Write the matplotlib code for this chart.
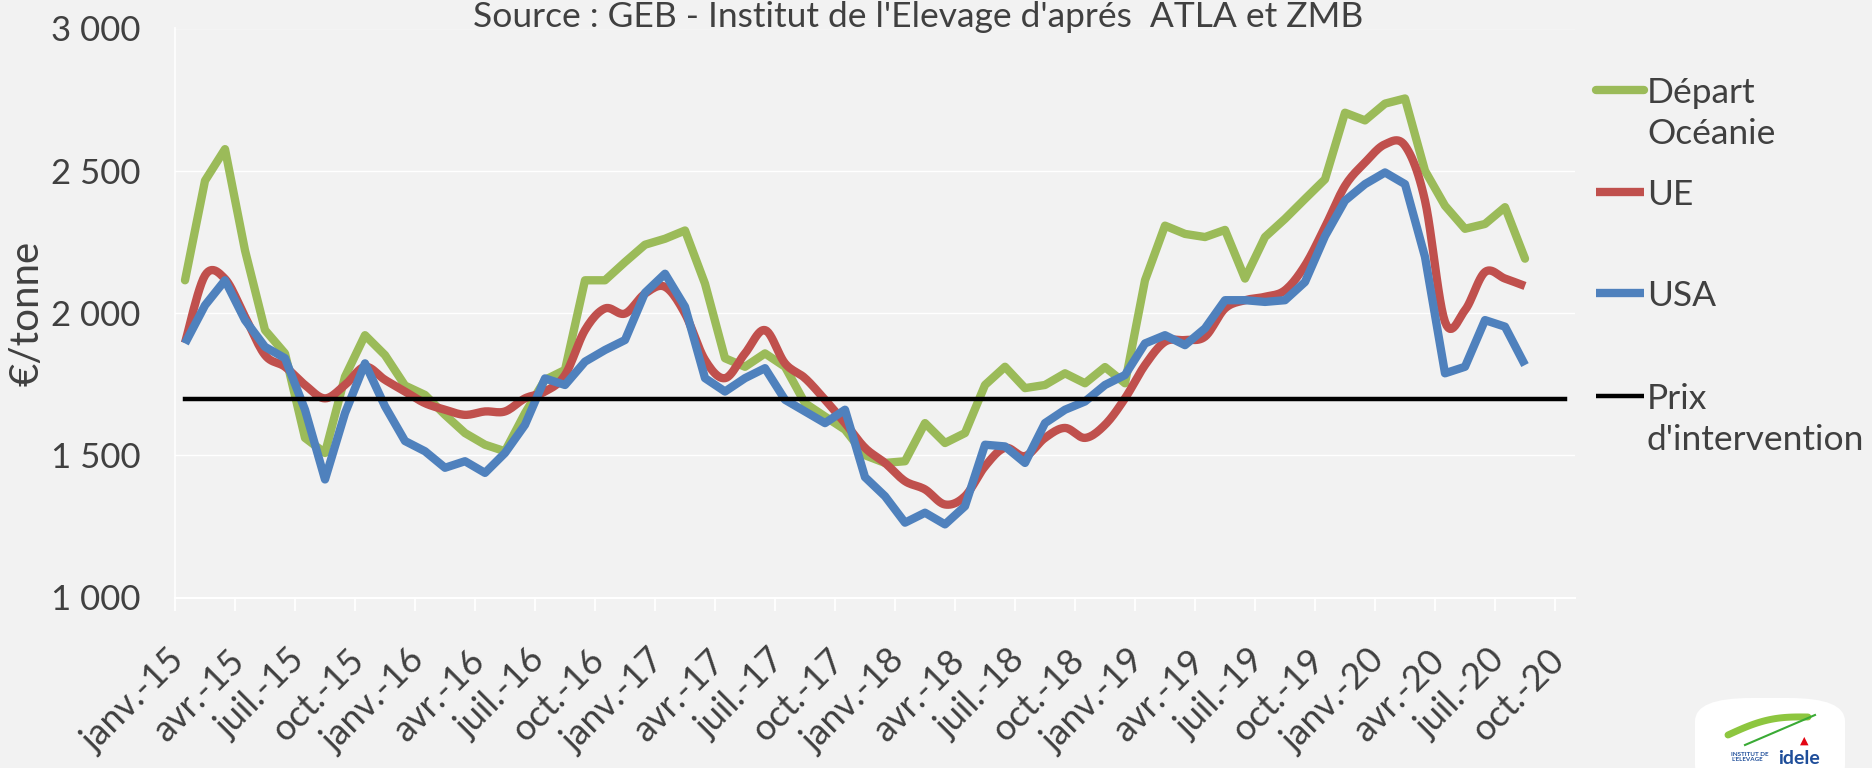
import matplotlib
matplotlib.use("Agg")
import matplotlib.pyplot as plt
import matplotlib.transforms as mtransforms
from matplotlib.lines import Line2D
from matplotlib.patches import FancyBboxPatch
import numpy as np

plt.rcParams['font.family'] = ['Lato', 'DejaVu Sans']

# prix mensuels, janv. 2015 -> août 2020 (EUR/tonne)
depart_oceanie = [2115, 2465, 2576, 2220, 1940, 1858, 1561, 1508, 1776, 1922, 1852, 1745,
                  1712, 1642, 1578, 1537, 1514, 1648, 1765, 1800, 2115, 2115, 2179, 2240,
                  2261, 2290, 2103, 1841, 1811, 1858, 1811, 1683, 1636, 1590, 1500, 1473,
                  1479, 1613, 1543, 1578, 1747, 1811, 1736, 1747, 1788, 1753, 1810, 1753,
                  2115, 2307, 2278, 2267, 2292, 2121, 2267, 2331, 2401, 2470, 2704, 2677,
                  2736, 2754, 2500, 2377, 2296, 2313, 2372, 2191]
ue = [1895, 2132, 2120, 1987, 1852, 1811, 1747, 1700, 1747, 1811, 1765, 1724,
      1683, 1660, 1642, 1654, 1654, 1700, 1724, 1782, 1940, 2016, 1998, 2068,
      2092, 1998, 1835, 1771, 1858, 1940, 1823, 1771, 1695, 1613, 1526, 1473,
      1409, 1380, 1327, 1356, 1461, 1526, 1497, 1561, 1596, 1561, 1607, 1700,
      1817, 1899, 1905, 1917, 2016, 2045, 2057, 2080, 2167, 2302, 2447, 2529,
      2593, 2588, 2395, 1969, 2010, 2144, 2121, 2095]
usa = [1893, 2027, 2115, 1975, 1881, 1841, 1660, 1415, 1648, 1823, 1672, 1550,
       1514, 1456, 1479, 1438, 1508, 1607, 1770, 1747, 1829, 1870, 1905, 2071,
       2138, 2022, 1771, 1724, 1771, 1806, 1695, 1654, 1613, 1660, 1423, 1356,
       1263, 1298, 1257, 1321, 1537, 1531, 1473, 1613, 1660, 1689, 1747, 1782,
       1893, 1922, 1887, 1946, 2045, 2045, 2039, 2045, 2109, 2270, 2395, 2453,
       2494, 2453, 2197, 1788, 1811, 1975, 1952, 1817]
prix_intervention = 1698
n_mois = 70  # janv.-15 -> oct.-20

mois_labels = [f"{m}-{a}" for a in range(15, 21) for m in ["janv.", "avr.", "juil.", "oct."]]

VERT = '#9BBB59'
ROUGE = '#C0504D'
BLEU = '#4F81BD'
FOND = '#F2F2F2'
TEXTE = '#404040'
W, H = 1872, 768


def catmull_rom(x, y, n=12):
    # courbe lissée façon Excel
    pts = np.column_stack([x, y]).astype(float)
    p = np.vstack([pts[0], pts, pts[-1]])
    t = np.linspace(0, 1, n, endpoint=False)[:, None]
    out = []
    for k in range(1, len(p) - 2):
        p0, p1, p2, p3 = p[k - 1], p[k], p[k + 1], p[k + 2]
        seg = 0.5 * (2 * p1 + (-p0 + p2) * t
                     + (2 * p0 - 5 * p1 + 4 * p2 - p3) * t ** 2
                     + (-p0 + 3 * p1 - 3 * p2 + p3) * t ** 3)
        out.append(seg)
    out.append(pts[-1][None, :])
    return np.vstack(out)


fig = plt.figure(figsize=(W / 100, H / 100), dpi=100, facecolor=FOND)
ax = fig.add_axes([175 / W, 1 - 597.5 / H, 1400 / W, 569 / H])
ax.set_facecolor(FOND)

x = np.arange(len(ue))
lw = 6.0
ax.plot(x, depart_oceanie, color=VERT, lw=lw, solid_capstyle='round', solid_joinstyle='round', zorder=3)
sm = catmull_rom(x, ue)
ax.plot(sm[:, 0], sm[:, 1], color=ROUGE, lw=lw, solid_capstyle='butt', solid_joinstyle='round', zorder=4)
ax.plot(x, usa, color=BLEU, lw=lw, solid_capstyle='butt', solid_joinstyle='round', zorder=5)
xi = np.arange(n_mois)
ax.plot(xi, [prix_intervention] * n_mois, color='black', lw=3.2, zorder=6)

ax.set_xlim(-0.5, n_mois - 0.5)
ax.set_ylim(1000, 3000)

# axe vertical
ax.set_yticks([1000, 1500, 2000, 2500, 3000])
ax.set_yticklabels([f"{v:,}".replace(",", " ") for v in [1000, 1500, 2000, 2500, 3000]])
ax.tick_params(axis='y', length=0, pad=25, labelsize=25, labelcolor=TEXTE)
ax.grid(axis='y', color='white', lw=1.0, zorder=0)

# axe horizontal : graduations entre catégories, étiquettes tous les 3 mois
ax.set_xticks(np.arange(-0.5, n_mois - 1, 3))
ax.set_xticklabels([])
ax.set_xticks(np.arange(0, n_mois, 3), minor=True)
ax.set_xticklabels(mois_labels, minor=True, rotation=45, ha='right', va='top')
ax.tick_params(axis='x', which='major', length=9, width=1.3, color='white', direction='out')
ax.tick_params(axis='x', which='minor', length=0, pad=33, labelsize=26, labelcolor=TEXTE)
offset = mtransforms.ScaledTranslation(6 / 100, 0, fig.dpi_scale_trans)
for lab in ax.get_xticklabels(minor=True):
    lab.set_transform(lab.get_transform() + offset)

for s in ['top', 'right']:
    ax.spines[s].set_visible(False)
ax.spines['left'].set_color('white')
ax.spines['left'].set_linewidth(1.2)
ax.spines['bottom'].set_color('white')
ax.spines['bottom'].set_linewidth(1.5)

fig.text(27 / W, 1 - 313 / H, "€/tonne", rotation=90, ha='center', va='center',
         fontsize=29, color=TEXTE)
fig.text(918 / W, 1 - 27 / H, "Source : GEB - Institut de l'Elevage d'aprés  ATLA et ZMB",
         ha='center', va='baseline', fontsize=25.5, color=TEXTE)

# légende
legende = [
    (VERT, 6.0, 'round', ["Départ", "Océanie"], 90, 41),
    (ROUGE, 6.0, 'butt', ["UE"], 192, 0),
    (BLEU, 6.0, 'butt', ["USA"], 293, 0),
    ('black', 3.2, 'butt', ["Prix", "d'intervention"], 396, 41),
]
for couleur, largeur, cap, lignes, yc, dy in legende:
    fig.add_artist(Line2D([1596 / W, 1644 / W], [1 - yc / H, 1 - yc / H], color=couleur,
                          lw=largeur, solid_capstyle=cap, transform=fig.transFigure))
    for k, txt in enumerate(lignes):
        fig.text(1647 / W, 1 - (yc + k * dy) / H, txt, ha='left', va='center_baseline',
                 fontsize=25.5, color=TEXTE)

# logo
fig.add_artist(FancyBboxPatch((1695 / W, -20 / H), 150 / W, 90 / H,
                              boxstyle="round,pad=0,rounding_size=0.03",
                              transform=fig.transFigure, fc='white', ec='none'))
t = np.linspace(0, 1, 40)
fig.add_artist(Line2D((1728 + 80 * t) / W, 1 - (735 - 6 * np.sin(np.pi * t) - 18 * t) / H,
                      color='#8DC63F', lw=5, solid_capstyle='round', transform=fig.transFigure))
fig.add_artist(Line2D((1745 + 70 * t) / W, 1 - (745 - 30 * t) / H,
                      color='#3AAA35', lw=1.5, transform=fig.transFigure))
fig.text(1804 / W, 1 - 740 / H, "▲", color='#E30613', fontsize=8, ha='center', va='center')
fig.text(1731 / W, 1 - 752 / H, "INSTITUT DE\nL'ELEVAGE", color='#1F4E9A', fontsize=4.5,
         fontweight='bold', ha='left', va='top', linespacing=1.0)
fig.text(1778 / W, 1 - 764 / H, "idele", color='#1F4E9A', fontsize=14, fontweight='bold',
         ha='left', va='baseline')

fig.savefig("out.png", dpi=100, facecolor=FOND)
